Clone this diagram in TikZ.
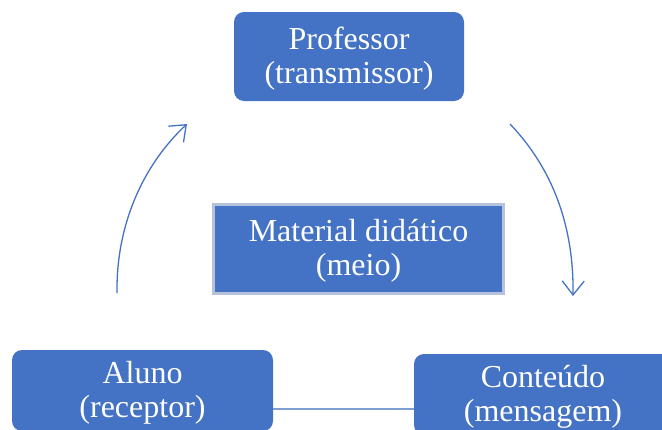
\documentclass[tikz,border=0pt]{standalone}
\usepackage{fontspec}
\setmainfont{Liberation Serif}
\usetikzlibrary{arrows.meta,calc}
\definecolor{boxblue}{HTML}{4472C4}
\definecolor{boxedge}{HTML}{B6C2D9}
\definecolor{linkblue}{HTML}{7F9FD3}
\tikzset{
  boxtext/.style={text=white, align=center, inner sep=0pt,
    font=\fontsize{32}{34}\selectfont, text height=60pt, text depth=7pt},
  card/.style={boxtext, fill=boxblue, draw=none, rounded corners=10pt},
  centrebox/.style={boxtext, fill=boxblue, draw=boxedge, line width=3pt},
  flow/.style={draw=boxblue, line width=1.3pt,
    -{Straight Barb[length=14pt,width=22pt,line width=1.3pt]}},
  link/.style={draw=linkblue, line width=1.5pt}
}
\begin{document}
\begin{tikzpicture}[x=1pt,y=-1pt]
  \useasboundingbox (0,0) rectangle (662,429);
  \clip (0,0) rectangle (662,429);

  \node[card, minimum width=230pt, minimum height=89pt] (prof) at (349,56.5)
    {Professor\\(transmissor)};
  \node[centrebox, minimum width=290pt, minimum height=89pt] (meio) at (358.5,249)
    {Material didático\\(meio)};
  \node[card, minimum width=261pt, minimum height=81pt] (aluno) at (142.5,390.5)
    {Aluno\\(receptor)};
  \node[card, minimum width=258pt, minimum height=81pt] (cont) at (543,394.5)
    {Conteúdo\\(mensagem)};

  \draw[link] ([yshift=-18.5pt]aluno.east) -- ([yshift=-18.5pt]aluno.east -| cont.west);

  \coordinate (upfrom) at (117,293);
  \coordinate (upto) at (187,124);
  \coordinate (downfrom) at (510,124);
  \coordinate (downto) at (573,296);
  \draw[flow] (upfrom) .. controls (116,225) and (143,165) .. (upto);
  \draw[flow] (downfrom) .. controls (552,168) and (574,225) .. (downto);
\end{tikzpicture}
\end{document}
